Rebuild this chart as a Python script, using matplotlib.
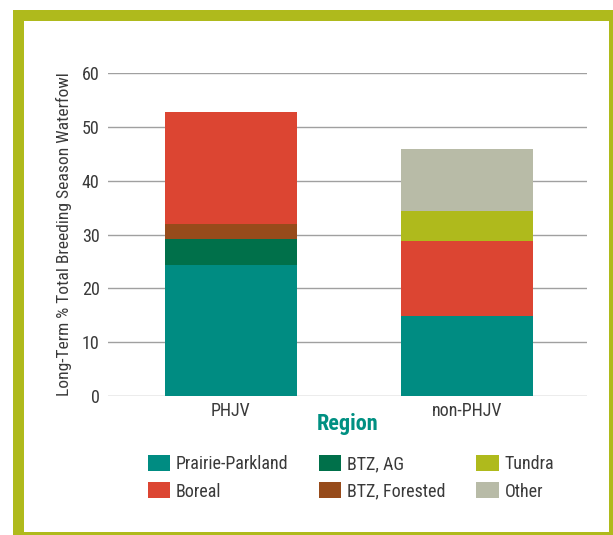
import matplotlib
matplotlib.use("Agg")
import matplotlib.pyplot as plt
from matplotlib.patches import Rectangle
import numpy as np

# data
regions = ['PHJV', 'non-PHJV']
habitats = ['Prairie-Parkland', 'BTZ, AG', 'BTZ, Forested', 'Boreal', 'Tundra', 'Other']
prairie_parkland = [24.3, 14.9]
btz_ag = [4.8, 0.0]
btz_forested = [2.8, 0.0]
boreal = [20.8, 13.8]
tundra = [0.0, 5.7]
other = [0.0, 11.5]

colors = {
    'Prairie-Parkland': '#008c82',
    'BTZ, AG': '#00704a',
    'BTZ, Forested': '#974b1b',
    'Boreal': '#dc4532',
    'Tundra': '#afba1c',
    'Other': '#b8bba7',
}

plt.rcParams['font.family'] = ['Roboto Condensed', 'DejaVu Sans']
text_color = '#3a3a3a'
fs = 13

W, H = 613, 535
fig = plt.figure(figsize=(W / 100, H / 100), dpi=100)

# green frame
fig.patches.append(Rectangle((13 / W, 0), 1, 1 - 10 / H, transform=fig.transFigure,
                             facecolor='#afba1c', edgecolor='none', zorder=-2))
fig.patches.append(Rectangle((24 / W, (H - 532) / H), (609 - 24) / W, (532 - 21) / H,
                             transform=fig.transFigure, facecolor='white',
                             edgecolor='none', zorder=-1))

ax = fig.add_axes([108 / W, (H - 396) / H, (587 - 108) / W, (396 - 73) / H])
ax.set_facecolor('none')

x = np.arange(len(regions))
series = [prairie_parkland, btz_ag, btz_forested, boreal, tundra, other]
bottom = np.zeros(len(regions))
bars = {}
for name, vals in zip(habitats, series):
    vals = np.array(vals)
    bars[name] = ax.bar(x, vals, width=0.56, bottom=bottom, color=colors[name],
                        label=name, zorder=3)
    bottom += vals

ax.set_xlim(-0.52, 1.51)
ax.set_ylim(0, 60)
ax.set_yticks(range(0, 61, 10))
ax.set_xticks(x)
ax.set_xticklabels(regions)
ax.yaxis.grid(True, color='#a0a0a0', linewidth=1.0, zorder=0)
ax.set_axisbelow(True)
for s in ax.spines.values():
    s.set_visible(False)
ax.tick_params(length=0, labelsize=fs, labelcolor=text_color)
ax.tick_params(axis='y', pad=6)
ax.tick_params(axis='x', pad=4)

ax.set_ylabel('Long-Term % Total Breeding Season Waterfowl', fontsize=12.6,
              color=text_color, labelpad=7)
ax.set_xlabel('Region', fontsize=16, fontweight='bold', color='#009082', labelpad=-5)

order = ['Prairie-Parkland', 'Boreal', 'BTZ, AG', 'BTZ, Forested', 'Tundra', 'Other']
fig.legend([bars[n] for n in order], order, ncol=3, frameon=False,
           loc='upper left', bbox_to_anchor=(148 / W, 1 - 455 / H), borderaxespad=0,
           fontsize=fs, handlelength=1.22, handleheight=1.0, handletextpad=0.33,
           columnspacing=1.7, labelspacing=0.5, borderpad=0, labelcolor=text_color)

fig.savefig('out.png', dpi=100)
